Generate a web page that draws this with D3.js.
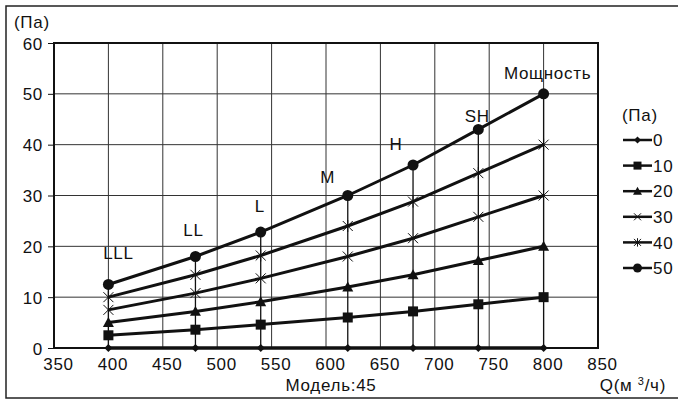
<!DOCTYPE html>
<html>
<head>
<meta charset="utf-8">
<script src="https://cdn.jsdelivr.net/npm/d3@7"></script>
<style>
  body { margin: 0; background: #fff; }
  text { font-family: "Liberation Sans", Arial, sans-serif; fill: #111; letter-spacing: 0.7px; }
</style>
</head>
<body>
<div class="vis-holder"></div>
<script>
// air flow (m3/h) at each fan speed
var flow = [400, 480, 540, 620, 680, 740, 800];
var speedNames = ['LLL', 'LL', 'L', 'M', 'H', 'SH', 'Мощность'];

// static pressure series (Pa)
var seriesNames = ['0', '10', '20', '30', '40', '50'];
var p0  = [0, 0, 0, 0, 0, 0, 0];
var p10 = [2.5, 3.6, 4.6, 6, 7.2, 8.6, 10];
var p20 = [5, 7.2, 9.1, 12, 14.4, 17.2, 20];
var p30 = [7.5, 10.8, 13.7, 18, 21.6, 25.8, 30];
var p40 = [10, 14.4, 18.2, 24, 28.8, 34.4, 40];
var p50 = [12.5, 18, 22.8, 30, 36, 43, 50];

var xTicks = [350, 400, 450, 500, 550, 600, 650, 700, 750, 800, 850];
var yTicks = [0, 10, 20, 30, 40, 50, 60];

var width = 678;
var height = 401;
var margin = { top: 43, bottom: 53, left: 54, right: 80 };
var fontSize = '17px';

var series = [p0, p10, p20, p30, p40, p50].map(function(vals, i) {
  return { name: seriesNames[i], values: vals.map(function(v, j) { return { x: flow[j], y: v }; }) };
});

var svg = d3.select('div.vis-holder')
            .append('svg')
            .attr('width', width)
            .attr('height', height);

// outer frame
svg.append('rect')
   .attr('x', 6).attr('y', 6)
   .attr('width', 690).attr('height', 392)
   .attr('fill', 'none')
   .attr('stroke', '#222')
   .attr('stroke-width', 1.5);

var xScale = d3.scaleLinear()
               .domain([350, 850])
               .range([margin.left, width - margin.right]);

var yScale = d3.scaleLinear()
               .domain([0, 60])
               .range([height - margin.bottom, margin.top]);

// grid
svg.append('g')
   .selectAll('line')
   .data(xTicks.slice(1, -1))
   .enter()
   .append('line')
   .attr('x1', function(d) { return xScale(d); })
   .attr('x2', function(d) { return xScale(d); })
   .attr('y1', yScale(0))
   .attr('y2', yScale(60))
   .attr('stroke', '#333')
   .attr('stroke-width', 1);

svg.append('g')
   .selectAll('line')
   .data(yTicks.slice(1, -1))
   .enter()
   .append('line')
   .attr('x1', xScale(350))
   .attr('x2', xScale(850))
   .attr('y1', function(d) { return yScale(d); })
   .attr('y2', function(d) { return yScale(d); })
   .attr('stroke', '#333')
   .attr('stroke-width', 1);

// plot frame
svg.append('rect')
   .attr('x', xScale(350)).attr('y', yScale(60))
   .attr('width', xScale(850) - xScale(350))
   .attr('height', yScale(0) - yScale(60))
   .attr('fill', 'none')
   .attr('stroke', '#111')
   .attr('stroke-width', 2);

// axes
var xAxis = svg.append('g')
               .attr('transform', `translate(0, ${yScale(0)})`)
               .call(d3.axisBottom(xScale).tickValues(xTicks).tickSize(0).tickPadding(10));
xAxis.select('.domain').remove();
xAxis.selectAll('text')
     .attr('dx', 4)
     .style('font-size', fontSize)
     .style('font-family', '"Liberation Sans", Arial, sans-serif');

var yAxis = svg.append('g')
               .attr('transform', `translate(${xScale(350)}, 0)`)
               .call(d3.axisLeft(yScale).tickValues(yTicks).tickSize(6).tickPadding(5));
yAxis.select('.domain').remove();
yAxis.selectAll('line').attr('stroke', '#111');
yAxis.selectAll('text')
     .attr('dy', '0.36em')
     .style('font-size', fontSize)
     .style('font-family', '"Liberation Sans", Arial, sans-serif');

// drop lines from the top curve
svg.append('g')
   .selectAll('line')
   .data(series[5].values)
   .enter()
   .append('line')
   .attr('x1', function(d) { return xScale(d.x); })
   .attr('x2', function(d) { return xScale(d.x); })
   .attr('y1', function(d) { return yScale(d.y); })
   .attr('y2', yScale(0))
   .attr('stroke', '#111')
   .attr('stroke-width', 1.3);

// markers
function markerPath(kind, s) {
  var h = s / 2;
  if (kind === 0) return `M0,${-h}L${h},0L0,${h}L${-h},0Z`;
  if (kind === 1) return `M${-h},${-h}H${h}V${h}H${-h}Z`;
  if (kind === 2) return `M0,${-h}L${h},${h * 0.8}L${-h},${h * 0.8}Z`;
  if (kind === 3) return `M${-h},${-h}L${h},${h}M${h},${-h}L${-h},${h}`;
  if (kind === 4) return `M${-h},${-h}L${h},${h}M${h},${-h}L${-h},${h}M0,${-h * 1.2}V${h * 1.2}`;
  return null;
}

function drawMarker(g, i, big) {
  if (i === 5) {
    g.append('circle').attr('r', big ? 5.5 : 4.5).attr('fill', '#111');
  } else if (i === 3 || i === 4) {
    g.append('path').attr('d', markerPath(i, big ? 10 : 7))
     .attr('fill', 'none').attr('stroke', '#111').attr('stroke-width', 1);
  } else {
    var s = [8, 10, 11][i];
    if (!big) s = [7, 8, 9][i];
    g.append('path').attr('d', markerPath(i, s)).attr('fill', '#111');
  }
}

var line = d3.line()
             .x(function(d) { return xScale(d.x); })
             .y(function(d) { return yScale(d.y); });

series.forEach(function(s, i) {
  svg.append('path')
     .datum(s.values)
     .attr('d', line)
     .attr('fill', 'none')
     .attr('stroke', '#111')
     .attr('stroke-width', i === 0 ? 3.5 : 3);

  s.values.forEach(function(d) {
    var g = svg.append('g')
               .attr('transform', `translate(${xScale(d.x)},${yScale(d.y)})`);
    drawMarker(g, i, true);
  });
});

// speed labels above the top curve
var labelShift = [[10, -25], [-2, -21], [-1, -20], [-20, -13], [-17, -15], [-1, -7], [4, -15]];
svg.append('g')
   .selectAll('text')
   .data(speedNames)
   .enter()
   .append('text')
   .attr('x', function(d, j) { return xScale(flow[j]) + labelShift[j][0]; })
   .attr('y', function(d, j) { return yScale(p50[j]) + labelShift[j][1]; })
   .attr('text-anchor', 'middle')
   .style('font-size', fontSize)
   .text(function(d) { return d; });

// axis titles
svg.append('text')
   .attr('x', 14).attr('y', 28)
   .style('font-size', fontSize)
   .text('(Па)');

svg.append('text')
   .attr('x', 331).attr('y', 391)
   .attr('text-anchor', 'middle')
   .style('font-size', fontSize)
   .text('Модель:45');

var qLabel = svg.append('text')
                .attr('x', 666).attr('y', 391)
                .attr('text-anchor', 'end')
                .style('font-size', fontSize);
qLabel.append('tspan').text('Q(м ');
qLabel.append('tspan').attr('font-size', '11px').attr('dy', -6).text('3');
qLabel.append('tspan').attr('dy', 6).text('/ч)');

// legend
var legend = svg.append('g').attr('transform', 'translate(623, 0)');
legend.append('text')
      .attr('x', -1).attr('y', 121)
      .style('font-size', fontSize)
      .text('(Па)');

seriesNames.forEach(function(name, i) {
  var y = 140 + i * 25.6;
  legend.append('line')
        .attr('x1', 0).attr('x2', 29)
        .attr('y1', y).attr('y2', y)
        .attr('stroke', '#111')
        .attr('stroke-width', 2.5);
  var g = legend.append('g').attr('transform', `translate(14.5,${y})`);
  drawMarker(g, i, false);
  legend.append('text')
        .attr('x', 30).attr('y', y)
        .attr('dy', '0.36em')
        .style('font-size', fontSize)
        .text(name);
});
</script>
</body>
</html>
